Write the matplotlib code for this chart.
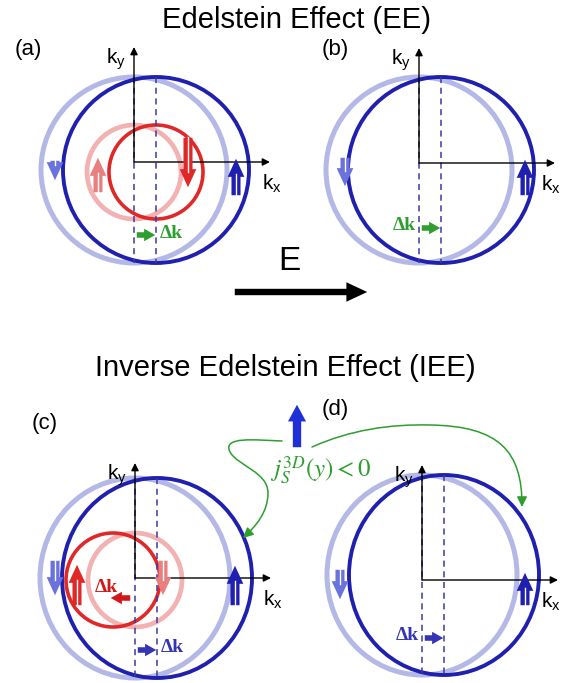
import matplotlib
matplotlib.use("Agg")
import matplotlib.pyplot as plt
from matplotlib.patches import Ellipse, FancyArrowPatch
from matplotlib.path import Path

plt.rcParams['font.family'] = ['Liberation Sans', 'DejaVu Sans']
plt.rcParams['mathtext.fontset'] = 'custom'
plt.rcParams['mathtext.rm'] = 'Liberation Sans'

# === Schematic values (pixel units of the picture) ===
panel_names = ['(a)', '(b)', '(c)', '(d)']
blue_shift = [22, 22, 22, 22]          # outer contour shift, Delta k
red_shift = [22, None, -22, None]      # inner contour shift (only a, c)
outer_size = [(186, 186), (186, 186), (190, 200), (190, 200)]
inner_radius = 47

# spin arrows: (panel, dx from origin, tail dy, head dy, kind)
spin_arrows = [
    (0, -79, -4, 21, 'blue_light'), (0, 102, 36, -6, 'blue_dark'),
    (0, -36, 33, -7, 'red_light'), (0, 54, -27, 28, 'red_dark'),
    (1, -74, -8, 26, 'blue_light'), (1, 106, 35, -6, 'blue_dark'),
    (2, -80, -20, 20, 'blue_light'), (2, -58, 30, -16, 'red_dark'),
    (2, 28, -20, 20, 'red_light'), (2, 100, 30, -15, 'blue_dark'),
    (3, -82, -13, 22, 'blue_light'), (3, 103, 28, -10, 'blue_dark'),
]
# delta-k labels: (panel, y, direction, colour key, label side)
dk_arrows = [
    (0, 235, 1, 'green', 'right'),
    (1, 228, 1, 'green', 'left'),
    (2, 598, -1, 'red', 'above'),
    (2, 650, 1, 'blue', 'right'),
    (3, 638, 1, 'blue', 'left'),
]

# layout
origins = [(134, 162), (419, 163), (135, 578), (422, 580)]
centre_y = [170, 170, 578, 575]
label_pos = [(28, 50), (335, 50), (45, 423), (335, 410)]
axis_len_x = 136
axis_len_y = 115

colors = {
    'blue_dark': '#2020b0', 'blue_light': '#b3b8e6',
    'red_dark': '#e02828', 'red_light': '#f3b2b2',
    'blue_arrow_light': '#6a72dc', 'red_arrow_light': '#e88080',
    'green': '#2e9e2e', 'dash': '#3a3aa0', 'red': '#d01818', 'blue': '#3434b4',
}

fig = plt.figure(figsize=(5.61, 6.83), dpi=100)
ax = fig.add_axes([0, 0, 1, 1])
ax.set_xlim(0, 561)
ax.set_ylim(683, 0)
ax.axis('off')

# titles
ax.text(297, 20, 'Edelstein Effect (EE)', ha='center', va='center', fontsize=21)
ax.text(285, 368, 'Inverse Edelstein Effect (IEE)', ha='center', va='center', fontsize=21)

for i, (ox, oy) in enumerate(origins):
    cy = centre_y[i]
    w, h = outer_size[i]
    # outer contours
    ax.add_patch(Ellipse((ox, cy), w, h, fill=False, ec=colors['blue_light'], lw=3.6, zorder=2))
    ax.add_patch(Ellipse((ox + blue_shift[i], cy), w, h, fill=False, ec=colors['blue_dark'], lw=2.8, zorder=3))
    # inner contours
    if red_shift[i] is not None:
        ax.add_patch(Ellipse((ox, cy + 2), 2 * inner_radius, 2 * inner_radius, fill=False,
                             ec=colors['red_light'], lw=3.4, zorder=3))
        ax.add_patch(Ellipse((ox + red_shift[i], cy + 2), 2 * inner_radius, 2 * inner_radius,
                             fill=False, ec=colors['red_dark'], lw=2.6, zorder=4))
    # dashed guides
    for gx in (ox, ox + blue_shift[i]):
        ax.plot([gx, gx], [cy - h / 2, cy + h / 2], color=colors['dash'], lw=1.1,
                ls=(0, (4, 3)), zorder=5)
    # k axes
    ax.annotate('', xy=(ox + axis_len_x, oy), xytext=(ox, oy),
                arrowprops=dict(arrowstyle='-|>', color='black', lw=1.0,
                                mutation_scale=11, shrinkA=0, shrinkB=0), zorder=6)
    ax.annotate('', xy=(ox, oy - axis_len_y), xytext=(ox, oy),
                arrowprops=dict(arrowstyle='-|>', color='black', lw=1.0,
                                mutation_scale=11, shrinkA=0, shrinkB=0), zorder=6)
    ax.text(ox - 8, oy - axis_len_y + 12, r'$\mathregular{k_y}$', ha='right', va='center',
            fontsize=15, zorder=7)
    kx_x = min(ox + axis_len_x - 8, 541)
    ax.text(kx_x, oy + 22, r'$\mathregular{k_x}$', ha='left', va='center',
            fontsize=15, zorder=7)
    ax.text(label_pos[i][0], label_pos[i][1], panel_names[i], ha='center', va='center',
            fontsize=16, zorder=7)

# spin arrows
for p, dx, t, hd, kind in spin_arrows:
    ox, oy = origins[p]
    x = ox + dx
    y0, y1 = oy + t, oy + hd
    if kind == 'blue_light':
        c = colors['blue_arrow_light']
    elif kind == 'red_light':
        c = colors['red_arrow_light']
    else:
        c = colors[kind]
    ax.add_patch(FancyArrowPatch((x, y0), (x, y1),
                 arrowstyle='simple,head_width=12,head_length=13,tail_width=6.5',
                 mutation_scale=1, color=c, lw=0, zorder=8))
    sgn = 1 if y1 > y0 else -1
    ax.plot([x, x], [y0 + sgn * 2, y1 - sgn * 18], color='white', lw=1.0, zorder=9)

# delta-k arrows
for p, y, d, ck, side in dk_arrows:
    ox, oy = origins[p]
    if d > 0:
        x0, x1 = ox, ox + 24
    else:
        x0, x1 = ox - 2, ox - 27
    c = colors[ck]
    ax.add_patch(FancyArrowPatch((x0, y), (x1, y),
                 arrowstyle='simple,head_width=9,head_length=8,tail_width=4',
                 mutation_scale=1, color=c, lw=0, zorder=9))
    if side == 'right':
        tx, ty, ha = ox + 26, y - 2, 'left'
    elif side == 'left':
        tx, ty, ha = ox - 3, y - 2, 'right'
    else:
        tx, ty, ha = ox - 29, y - 11, 'center'
    ax.text(tx, ty, '\u0394k', color=c, ha=ha, va='center', fontsize=14,
            fontweight='bold', family=['Liberation Serif', 'DejaVu Serif'], zorder=10)

# electric field
ax.add_patch(FancyArrowPatch((232, 292), (370, 292),
             arrowstyle='simple,head_width=14,head_length=15,tail_width=4.6',
             mutation_scale=1, color='black', lw=0, zorder=5))
ax.text(289, 261, 'E', ha='center', va='center', fontsize=24)

# spin current arrow and label
ax.add_patch(FancyArrowPatch((297, 450), (297, 402),
             arrowstyle='simple,head_width=13,head_length=12,tail_width=6',
             mutation_scale=1, color='#2030d8', lw=0, zorder=8))
ax.text(321, 470, r'$j_S^{3D}(y)<0$', color=colors['green'], ha='center', va='center',
        fontsize=18, math_fontfamily='stix', zorder=8)

green_right = Path([(312, 447), (350, 430), (390, 424), (430, 425),
                    (500, 426), (522, 452), (522, 507)],
                   [Path.MOVETO, Path.CURVE4, Path.CURVE4, Path.CURVE4,
                    Path.CURVE4, Path.CURVE4, Path.CURVE4])
green_left = Path([(282, 441), (255, 440), (222, 436), (230, 452),
                   (238, 466), (268, 472), (268, 493),
                   (268, 512), (256, 526), (243, 538)],
                  [Path.MOVETO, Path.CURVE4, Path.CURVE4, Path.CURVE4,
                   Path.CURVE4, Path.CURVE4, Path.CURVE4,
                   Path.CURVE4, Path.CURVE4, Path.CURVE4])
for pth in (green_right, green_left):
    ax.add_patch(FancyArrowPatch(path=pth, arrowstyle='-|>,head_length=6,head_width=3',
                                 color=colors['green'], lw=1.1, mutation_scale=1, zorder=7))

fig.savefig('out.png', dpi=100)
